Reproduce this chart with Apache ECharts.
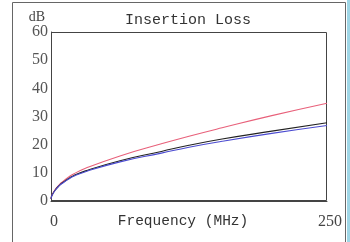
<!DOCTYPE html>
<html>
<head>
<meta charset="utf-8">
<script src="https://cdn.jsdelivr.net/npm/echarts@6/dist/echarts.min.js"></script>
<style>
  html, body { margin: 0; padding: 0; background: #fff; }
  #chart { width: 350px; height: 242px; }
</style>
</head>
<body>
<div id="chart"></div>
<script>
// frequency points (MHz) and the three measured loss curves (dB)
const freq = [0, 1, 4, 8, 10, 16, 20, 31.25, 62.5, 100, 125, 155, 200, 250];
const lossRed = [0.8, 2.2, 4.2, 6.0, 6.7, 8.5, 9.5, 11.6, 16.0, 20.3, 23.0, 26.0, 30.3, 34.7];
const lossBlack = [0.8, 2.1, 4.0, 5.7, 6.4, 8.0, 8.9, 10.7, 14.3, 17.6, 19.8, 22.0, 24.8, 27.8];
const lossBlue = [0.8, 2.0, 3.9, 5.6, 6.2, 7.8, 8.7, 10.4, 13.9, 17.0, 19.1, 21.2, 24.0, 26.8];
const yTicks = [0, 10, 20, 30, 40, 50, 60];

const chart = echarts.init(document.getElementById("chart"));

const pairs = (ys) => freq.map((f, i) => [f, ys[i]]);

const line = (name, ys, color) => ({
    name: name,
    type: "line",
    data: pairs(ys),
    smooth: true,
    showSymbol: false,
    lineStyle: { color: color, width: 1.1 },
    z: 3
});

const option = {
    animation: false,
    backgroundColor: "#fff",
    grid: { left: 51, right: 23, top: 32, bottom: 41, outerBoundsMode: "none", containLabel: false },
    title: {
        text: "Insertion Loss",
        left: 183,
        top: 8,
        textAlign: "center",
        textStyle: { fontFamily: "Liberation Mono", fontSize: 15, fontWeight: "normal", color: "#333" }
    },
    xAxis: {
        type: "value",
        min: 0,
        max: 250,
        interval: 250,
        name: "Frequency (MHz)",
        nameLocation: "middle",
        nameGap: 13,
        nameMoveOverlap: false,
        nameTextStyle: { fontFamily: "Liberation Mono", fontSize: 14.5, color: "#333", verticalAlign: "top", padding: [0, 12, 0, 0] },
        axisLine: { lineStyle: { color: "#444", width: 1 } },
        axisTick: { show: false },
        splitLine: { show: false },
        axisLabel: { fontFamily: "Liberation Serif", fontSize: 16, color: "#444", margin: 13, padding: [0, 0, 0, 6] }
    },
    yAxis: {
        type: "value",
        min: yTicks[0],
        max: yTicks[yTicks.length - 1],
        interval: 10,
        name: "dB",
        nameGap: 7,
        nameTextStyle: { fontFamily: "Liberation Serif", fontSize: 14, color: "#444", padding: [0, 28, 0, 0] },
        axisLine: { show: true, lineStyle: { color: "#444", width: 1 } },
        axisTick: { show: false },
        splitLine: { show: false },
        axisLabel: { fontFamily: "Liberation Serif", fontSize: 16, color: "#555", margin: 3 }
    },
    graphic: [
        { type: "rect", shape: { x: 12.5, y: 2.5, width: 333, height: 250 }, style: { fill: "none", stroke: "#666", lineWidth: 1 } },
        { type: "rect", shape: { x: 51.5, y: 32.5, width: 275, height: 168 }, style: { fill: "none", stroke: "#444", lineWidth: 1 } },
        { type: "rect", shape: { x: 347, y: 0, width: 3, height: 242 }, style: { fill: "#9fd6e6" } }
    ],
    series: [
        line("red", lossRed, "#e8607a"),
        line("black", lossBlack, "#222"),
        line("blue", lossBlue, "#4a4ad0")
    ]
};

chart.setOption(option);
</script>
</body>
</html>
